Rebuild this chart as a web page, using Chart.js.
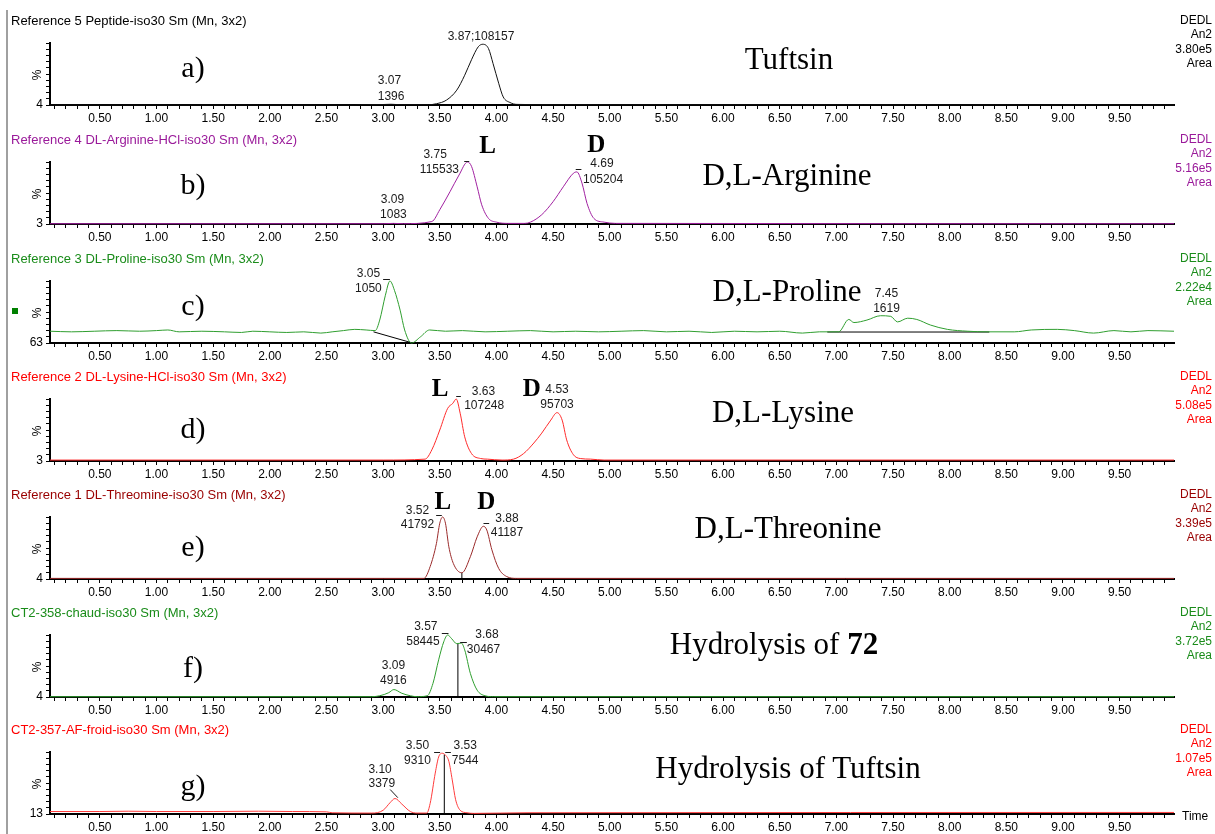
<!DOCTYPE html>
<html>
<head>
<meta charset="utf-8">
<title>DEDL chromatograms</title>
<script src="https://cdn.jsdelivr.net/npm/chart.js@4.4.1/dist/chart.umd.min.js"></script>
<style>
  body { margin: 0; background: #fff; font-family: "Liberation Sans", Arial, sans-serif; }
  #page { position: relative; width: 1215px; height: 834px; overflow: hidden; background: #fff; }
  .panel { position: absolute; left: 0; width: 1215px; height: 118px; }
  .panel canvas { display: block; }
  .t { position: absolute; white-space: nowrap; line-height: 1; }
  .serif { font-family: "Liberation Serif", "Times New Roman", serif; }
</style>
</head>
<body>
<div id="page"></div>
<script>
// traces: [retention time (min), signal (% of panel full scale)]
const peptideTrace = [[0.06, 0], [2.75, 0], [2.80, 0.5], [3.00, 0.8], [3.07, 1.2], [3.15, 0.5], [3.40, 0.5], [3.47, 2], [3.56, 8], [3.65, 24], [3.72, 48], [3.78, 73], [3.84, 94], [3.88, 98], [3.93, 91], [3.97, 67], [4.02, 35], [4.06, 13], [4.12, 4], [4.18, 1], [4.50, 0.5], [9.98, 0]]
const arginineTrace = [[0.06, 0.5], [3.00, 0.5], [3.09, 1], [3.18, 0.5], [3.43, 4], [3.50, 23], [3.59, 52], [3.67, 79], [3.745, 100], [3.78, 93], [3.83, 60], [3.87, 31], [3.93, 9], [4.00, 3], [4.10, 1], [4.25, 1], [4.30, 3], [4.40, 15], [4.50, 36], [4.59, 60], [4.68, 82], [4.71, 84], [4.755, 66], [4.80, 33], [4.86, 9], [4.95, 3], [5.05, 1], [9.98, 0.5]]
const prolineTrace = [[0.06, 19], [0.25, 18], [0.45, 19], [0.65, 20], [0.85, 19], [1.00, 20], [1.10, 21], [1.20, 18], [1.40, 19], [1.60, 18], [1.75, 17], [1.85, 19], [2.00, 18], [2.15, 17], [2.30, 18], [2.45, 16], [2.55, 18], [2.65, 20], [2.75, 22], [2.85, 21], [2.93, 20], [2.97, 37], [3.02, 77], [3.06, 100], [3.10, 85], [3.15, 53], [3.19, 21], [3.25, 0], [3.33, 10], [3.41, 21], [3.55, 19], [3.70, 20], [3.90, 18], [4.10, 19], [4.30, 20], [4.50, 18], [4.70, 19], [4.90, 18], [5.10, 19], [5.30, 20], [5.50, 18], [5.70, 19], [5.90, 17], [6.10, 19], [6.30, 18], [6.50, 19], [6.70, 16], [6.85, 18], [7.02, 18], [7.11, 38], [7.155, 33], [7.27, 37], [7.39, 44], [7.48, 43], [7.54, 34], [7.63, 40], [7.71, 38], [7.83, 29], [7.98, 22], [8.16, 19], [8.33, 18], [8.57, 18], [8.72, 21], [8.95, 22], [9.10, 20], [9.27, 16], [9.45, 20], [9.60, 18], [9.75, 20], [9.98, 19]]
const lysineTrace = [[0.06, 1.5], [3.00, 1.5], [3.37, 3], [3.43, 18], [3.50, 50], [3.57, 85], [3.615, 93], [3.645, 100], [3.68, 77], [3.72, 39], [3.78, 12], [3.86, 4], [3.92, 3], [4.05, 1.5], [4.15, 3], [4.24, 12], [4.33, 29], [4.40, 45], [4.48, 66], [4.535, 78], [4.58, 66], [4.62, 34], [4.68, 10], [4.74, 4], [4.83, 3], [4.95, 1.5], [9.98, 1.5]]
const threonineTrace = [[0.06, 1], [3.00, 1], [3.36, 1], [3.415, 20], [3.47, 57], [3.50, 90], [3.525, 100], [3.55, 90], [3.58, 52], [3.62, 25], [3.695, 10], [3.77, 36], [3.83, 68], [3.885, 85], [3.915, 79], [3.96, 47], [4.02, 17], [4.09, 4], [4.18, 1], [9.98, 1]]
const hydrolysis72Trace = [[0.06, 0.5], [2.90, 0.5], [2.97, 2], [3.05, 7], [3.095, 12], [3.165, 6], [3.24, 2], [3.30, 0.5], [3.39, 2], [3.44, 22], [3.49, 60], [3.535, 89], [3.57, 100], [3.605, 94], [3.65, 86], [3.69, 87], [3.72, 76], [3.77, 38], [3.83, 11], [3.90, 2], [3.975, 0.5], [9.98, 0.5]]
const hydrolysisTuftsinTrace = [[0.06, 4], [0.50, 4], [0.75, 4.5], [1.00, 4], [1.50, 4], [1.90, 4.5], [2.20, 4], [2.50, 3.5], [2.55, 2], [2.90, 1.5], [3.00, 6], [3.06, 18], [3.105, 25], [3.165, 16], [3.24, 4], [3.30, 1.5], [3.385, 1.5], [3.415, 17], [3.46, 66], [3.49, 92], [3.52, 98], [3.55, 95], [3.58, 85], [3.61, 55], [3.64, 23], [3.68, 6], [3.74, 2], [3.80, 1], [4.27, 2], [9.98, 2.5]]

// integration baselines and drop lines
const prolineBase1 = [[2.915, 18], [3.25, 0.5]]
const prolineBase2 = [[6.92, 17.7], [8.35, 17.7]]
const threonineDrop = [[3.695, 0], [3.695, 10]]
const hydrolysis72Drop = [[3.66, 0], [3.66, 86]]
const hydrolysisTuftsinDrop = [[3.54, 0], [3.54, 96]]

// text
const traceTitles = ['Reference 5 Peptide-iso30 Sm (Mn, 3x2)', 'Reference 4 DL-Arginine-HCl-iso30 Sm (Mn, 3x2)', 'Reference 3 DL-Proline-iso30 Sm (Mn, 3x2)', 'Reference 2 DL-Lysine-HCl-iso30 Sm (Mn, 3x2)', 'Reference 1 DL-Threomine-iso30 Sm (Mn, 3x2)', 'CT2-358-chaud-iso30 Sm (Mn, 3x2)', 'CT2-357-AF-froid-iso30 Sm (Mn, 3x2)']
const compoundNames = ['Tuftsin', 'D,L-Arginine', 'D,L-Proline', 'D,L-Lysine', 'D,L-Threonine', 'Hydrolysis of <b>72</b>', 'Hydrolysis of Tuftsin']
const panelLetters = ['a)', 'b)', 'c)', 'd)', 'e)', 'f)', 'g)']
const fullScale = ['3.80e5', '5.16e5', '2.22e4', '5.08e5', '3.39e5', '3.72e5', '1.07e5']
const minLabels = ['4', '3', '63', '3', '4', '4', '13']
const timeTickLabels = ['0.50', '1.00', '1.50', '2.00', '2.50', '3.00', '3.50', '4.00', '4.50', '5.00', '5.50', '6.00', '6.50', '7.00', '7.50', '8.00', '8.50', '9.00', '9.50']

// peak annotations (time, % position)
const peakNotes = [
    [{ t: 3.864, v: 110, text: '3.87;108157' }, { t: 3.056, v: 38.7, text: '3.07' }, { t: 3.07, v: 13.4, text: '1396' }],
    [{ t: 3.921, v: 124.7, text: 'L', bold: true }, { t: 4.882, v: 127, text: 'D', bold: true },
     { t: 3.459, v: 112.4, text: '3.75' }, { t: 3.497, v: 87, text: '115533' }, { t: 3.716, t2: 3.76, v: 102 },
     { t: 4.932, v: 97.9, text: '4.69' }, { t: 4.941, v: 72, text: '105204' }, { t: 4.70, t2: 4.75, v: 88 },
     { t: 3.082, v: 38.7, text: '3.09' }, { t: 3.091, v: 14.5, text: '1083' }],
    [{ t: 2.870, v: 112.4, text: '3.05' }, { t: 2.870, v: 88.2, text: '1050' }, { t: 3.00, t2: 3.06, v: 103 },
     { t: 7.443, v: 79, text: '7.45' }, { t: 7.443, v: 54.8, text: '1619' }],
    [{ t: 3.503, v: 114.5, text: 'L', bold: true }, { t: 3.886, v: 111.8, text: '3.63' }, { t: 3.892, v: 88.7, text: '107248' },
     { t: 3.645, t2: 3.686, v: 104.8 }, { t: 4.313, v: 114.5, text: 'D', bold: true },
     { t: 4.535, v: 114.5, text: '4.53' }, { t: 4.535, v: 91.4, text: '95703' }],
    [{ t: 3.527, v: 123, text: 'L', bold: true }, { t: 3.910, v: 123, text: 'D', bold: true },
     { t: 3.303, v: 110, text: '3.52' }, { t: 3.303, v: 88, text: '41792' }, { t: 3.468, t2: 3.518, v: 104 },
     { t: 4.093, v: 98, text: '3.88' }, { t: 4.093, v: 75, text: '41187' }, { t: 3.886, t2: 3.936, v: 90 }],
    [{ t: 3.377, v: 113, text: '3.57' }, { t: 3.351, v: 89, text: '58445' }, { t: 3.518, t2: 3.577, v: 103.7 },
     { t: 3.916, v: 100, text: '3.68' }, { t: 3.886, v: 76, text: '30467' }, { t: 3.680, t2: 3.739, v: 89 },
     { t: 3.091, v: 50, text: '3.09' }, { t: 3.091, v: 26.3, text: '4916' }],
    [{ t: 2.973, v: 72, text: '3.10' }, { t: 2.989, v: 49.5, text: '3379' }, { t: 3.062, v: 39.8, t2: 3.130, v2: 26.3 },
     { t: 3.303, v: 109.7, text: '3.50' }, { t: 3.303, v: 86, text: '9310' },
     { t: 3.724, v: 109.7, text: '3.53' }, { t: 3.724, v: 86, text: '7544' },
     { t: 3.45, t2: 3.503, v: 100.5 }, { t: 3.548, t2: 3.598, v: 100.5 }]
]

let page = document.getElementById('page')
let baselines = [105, 224, 343, 461, 579, 697, 814]
let letterDy = [-38, -40, -38, -33, -33, -30, -29]
let nameX = [789, 787, 787, 783, 788, 774, 788]
let nameDy = [-47, -50, -53, -50, -52, -54, -47]
let lineColors = ['#111111', '#a020a0', '#2f9e2f', '#ff2a2a', '#9a2a2a', '#2e9e2e', '#ff3b3b']
let textColors = ['#000000', '#9a1a9a', '#1a8c1a', '#ff0000', '#990000', '#1a8c1a', '#ff0000']
let traces = [peptideTrace, arginineTrace, prolineTrace, lysineTrace, threonineTrace, hydrolysis72Trace, hydrolysisTuftsinTrace]
let extras = [[], [], [prolineBase1, prolineBase2], [], [threonineDrop], [hydrolysis72Drop], [hydrolysisTuftsinDrop]]

function addText(html, x, y, css, align) {
    let d = document.createElement('div')
    d.className = 't'
    d.innerHTML = html
    d.style.cssText += css
    d.style.top = y + 'px'
    if (align == 'right') {
        d.style.right = (1215 - x) + 'px'
        d.style.textAlign = 'right'
        d.style.transform = 'translateY(-50%)'
    } else if (align == 'center') {
        d.style.left = x + 'px'
        d.style.transform = 'translate(-50%,-50%)'
    } else {
        d.style.left = x + 'px'
        d.style.transform = 'translateY(-50%)'
    }
    page.appendChild(d)
    return d
}

function drawNotes(chart, notes) {
    let ctx = chart.ctx
    let xs = chart.scales.x
    let ys = chart.scales.y
    ctx.save()
    ctx.fillStyle = '#1a1a1a'
    ctx.strokeStyle = '#1a1a1a'
    ctx.lineWidth = 1
    ctx.textAlign = 'center'
    ctx.textBaseline = 'middle'
    for (let n of notes) {
        if (n.text) {
            ctx.font = n.bold ? 'bold 25px "Liberation Serif", serif' : '12px "Liberation Sans", Arial, sans-serif'
            if (n.bold) ctx.fillStyle = '#000'
            ctx.fillText(n.text, xs.getPixelForValue(n.t), ys.getPixelForValue(n.v))
            ctx.fillStyle = '#1a1a1a'
        } else {
            let y1 = Math.round(ys.getPixelForValue(n.v)) + 0.5
            let y2 = n.v2 === undefined ? y1 : ys.getPixelForValue(n.v2)
            ctx.beginPath()
            ctx.moveTo(xs.getPixelForValue(n.t), y1)
            ctx.lineTo(xs.getPixelForValue(n.t2), y2)
            ctx.stroke()
        }
    }
    ctx.restore()
}

// minor time ticks every 0.1 min
let timeTicks = []
for (let k = 1; k <= 99; k++) timeTicks.push(k / 10)

// window border
let border = document.createElement('div')
border.style.cssText = 'position:absolute;left:6px;top:10px;width:2px;height:824px;background:#a0a0a0'
page.appendChild(border)

for (let i = 0; i < 7; i++) {
    let b = baselines[i]
    let box = document.createElement('div')
    box.className = 'panel'
    box.style.top = (b - 100) + 'px'
    let cv = document.createElement('canvas')
    cv.width = 1215
    cv.height = 118
    box.appendChild(cv)
    page.appendChild(box)

    let datasets = [{
        data: traces[i].map(d => ({ x: d[0], y: d[1] })),
        borderColor: lineColors[i], borderWidth: 1, pointRadius: 0,
        cubicInterpolationMode: 'monotone', clip: false
    }]
    extras[i].forEach(e => datasets.push({
        data: e.map(d => ({ x: d[0], y: d[1] })),
        borderColor: '#000', borderWidth: 1, pointRadius: 0, clip: false
    }))

    let notes = peakNotes[i]
    let minLabel = minLabels[i]
    new Chart(cv, {
        type: 'line',
        data: { datasets: datasets },
        options: {
            responsive: false,
            animation: false,
            devicePixelRatio: 1,
            layout: { padding: { top: 38, right: 41, left: 0, bottom: 0 } },
            plugins: { legend: { display: false }, tooltip: { enabled: false } },
            scales: {
                x: {
                    type: 'linear', min: 0.06, max: 9.98,
                    afterBuildTicks: s => { s.ticks = timeTicks.map(v => ({ value: v })) },
                    afterFit: s => { s.height = 18 },
                    ticks: {
                        autoSkip: false, maxRotation: 0, padding: 2, color: '#000',
                        font: { size: 12, family: '"Liberation Sans", Arial, sans-serif' },
                        callback: v => {
                            let idx = Math.round(v * 2) - 1
                            return Math.abs(v * 2 - Math.round(v * 2)) < 1e-6 ? timeTickLabels[idx] : ''
                        }
                    },
                    grid: { drawOnChartArea: false, drawTicks: true, tickLength: 4, color: '#000' },
                    border: { display: true, color: '#000', width: 2 }
                },
                y: {
                    min: 0, max: 100,
                    afterBuildTicks: s => { s.ticks = [0, 10, 20, 30, 40, 50, 60, 70, 80, 90, 100].map(v => ({ value: v })) },
                    afterFit: s => { s.width = 50 },
                    ticks: {
                        autoSkip: false, padding: 3, color: '#000',
                        font: { size: 12, family: '"Liberation Sans", Arial, sans-serif' },
                        callback: v => v === 0 ? minLabel : ''
                    },
                    grid: { drawOnChartArea: false, drawTicks: true, tickLength: 4, color: '#000' },
                    border: { display: true, color: '#000', width: 2 }
                }
            }
        },
        plugins: [{ id: 'peakNotes' + i, afterDatasetsDraw(chart) { drawNotes(chart, notes) } }]
    })

    // header and side texts
    addText(traceTitles[i], 11, b - 85, 'font-size:13px;color:' + textColors[i], 'left')
    let side = ['DEDL', 'An2', fullScale[i], 'Area']
    let sideDy = [-85, -71, -56, -42]
    for (let k = 0; k < 4; k++) addText(side[k], 1212, b + sideDy[k], 'font-size:12px;color:' + textColors[i], 'right')
    let pct = addText('%', 37, b - 30, 'font-size:12px;color:#000', 'center')
    pct.style.transform = 'translate(-50%,-50%) rotate(-90deg)'
    addText(panelLetters[i], 193, b + letterDy[i], 'font-size:30px;color:#000', 'center').classList.add('serif')
    addText(compoundNames[i], nameX[i], b + nameDy[i], 'font-size:31px;color:#000', 'center').classList.add('serif')
}

addText('Time', 1182, 816, 'font-size:12px;color:#000', 'left')
let marker = document.createElement('div')
marker.style.cssText = 'position:absolute;left:12px;top:308px;width:6px;height:6px;background:#008000'
page.appendChild(marker)
</script>
</body>
</html>
